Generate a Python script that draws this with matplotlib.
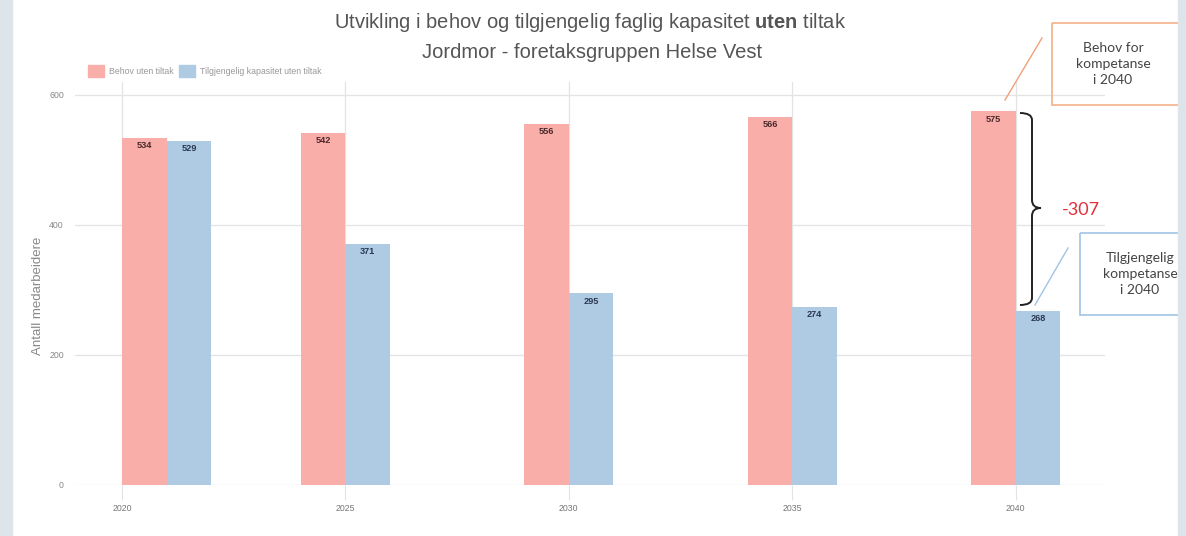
import numpy as np
import matplotlib.pyplot as plt
from matplotlib.patches import Rectangle, Patch
from matplotlib.path import Path
from matplotlib.patches import PathPatch

plt.rcParams['font.family'] = ['Liberation Sans', 'DejaVu Sans']
plt.rcParams['mathtext.fontset'] = 'custom'
plt.rcParams['mathtext.rm'] = 'Liberation Sans'
plt.rcParams['mathtext.bf'] = 'Liberation Sans:bold'

# data
years = [2021, 2025, 2030, 2035, 2040]
behov = [534, 542, 556, 566, 575]
tilgjengelig = [529, 371, 295, 274, 268]
tick_years = [2020, 2025, 2030, 2035, 2040]
y_ticks = [0, 200, 400, 600]

red = '#f9aeaa'
blue = '#aecbe3'

W, H = 1186, 536
fig = plt.figure(figsize=(W / 100, H / 100), dpi=100)

def fx(px):
    return px / W

def fy(py):
    return 1 - py / H

# main axes: x 75..1105, y 82..485 (pixels from top)
ax = fig.add_axes([fx(75), fy(485), fx(1105) - fx(75), fy(82) - fy(485)])
ax.set_xlim(2018.95, 2042.0)
ax.set_ylim(0, 620)

x = np.array(years)
ax.bar(x - 0.5, behov, width=1.0, color=red, zorder=2, label='Behov uten tiltak')
ax.bar(x + 0.5, tilgjengelig, width=1.0, color=blue, zorder=2,
       label='Tilgjengelig kapasitet uten tiltak')

for xi, v in zip(x, behov):
    ax.text(xi - 0.5, v - 5, str(v), ha='center', va='top', fontsize=6.6,
            fontweight='bold', color='#4a2a2a', zorder=3)
for xi, v in zip(x, tilgjengelig):
    ax.text(xi + 0.5, v - 5, str(v), ha='center', va='top', fontsize=6.6,
            fontweight='bold', color='#2a3850', zorder=3)

ax.set_xticks(tick_years)
ax.set_xticklabels([str(t) for t in tick_years])
ax.set_yticks(y_ticks)
ax.grid(True, color='#e3e3e3', linewidth=0.9, zorder=0)
ax.set_axisbelow(True)
for s in ax.spines.values():
    s.set_visible(False)
ax.tick_params(axis='x', length=11, color='#e3e3e3', labelsize=6.3, labelcolor='#777', pad=3)
ax.tick_params(axis='y', length=0, labelsize=6.3, labelcolor='#888', pad=8)
ax.set_ylabel('Antall medarbeidere', fontsize=9.5, color='#888', labelpad=2)
ax.yaxis.set_label_coords(-0.03, 0.47)

leg = fig.legend(handles=[Patch(color=red, label='Behov uten tiltak'),
                          Patch(color=blue, label='Tilgjengelig kapasitet uten tiltak')],
                 loc='center left', bbox_to_anchor=(fx(84), fy(71)), ncol=2, frameon=False,
                 fontsize=6.3, handlelength=1.9, handleheight=1.9, columnspacing=0.6,
                 handletextpad=0.5, borderaxespad=0)
for t in leg.get_texts():
    t.set_color('#999')

# titles
fig.text(fx(590), fy(22), r'Utvikling i behov og tilgjengelig faglig kapasitet $\bf{uten}$ tiltak',
         ha='center', va='center', fontsize=14.5, color='#555')
fig.text(fx(592), fy(52), 'Jordmor - foretaksgruppen Helse Vest',
         ha='center', va='center', fontsize=14.5, color='#555')

# overlay for annotations (pixel coords)
ov = fig.add_axes([0, 0, 1, 1], zorder=5)
ov.set_xlim(0, W)
ov.set_ylim(H, 0)
ov.axis('off')
ov.patch.set_alpha(0)

ov.add_patch(Rectangle((1052, 23), 140, 82, fill=False, edgecolor='#f5b08a', linewidth=1.2))
ov.text(1113, 64, 'Behov for\nkompetanse\ni 2040', ha='center', va='center',
        fontsize=10, color='#444', family=['Lato', 'DejaVu Sans'], linespacing=1.35)
ov.plot([1005, 1042], [100, 38], color='#f0a07a', linewidth=1)

ov.add_patch(Rectangle((1080, 233), 120, 82, fill=False, edgecolor='#9fc4e4', linewidth=1.2))
ov.text(1140, 274, 'Tilgjengelig\nkompetanse\ni 2040', ha='center', va='center',
        fontsize=10, color='#444', family=['Lato', 'DejaVu Sans'], linespacing=1.35)
ov.plot([1035, 1068], [305, 248], color='#9fc4e4', linewidth=1)

# curly brace
verts = [(1020, 113), (1032, 113), (1032, 120),
         (1032, 200), (1032, 208), (1041, 208),
         (1032, 208), (1032, 216),
         (1032, 298), (1032, 305), (1020, 305)]
codes = [Path.MOVETO, Path.CURVE3, Path.CURVE3,
         Path.LINETO, Path.CURVE3, Path.CURVE3,
         Path.CURVE3, Path.CURVE3,
         Path.LINETO, Path.CURVE3, Path.CURVE3]
ov.add_patch(PathPatch(Path(verts, codes), fill=False, edgecolor='#222', linewidth=1.4))
ov.text(1062, 210, '-307', ha='left', va='center', fontsize=13, color='#e0303a',
        family=['Lato', 'DejaVu Sans'])

# grey borders of the screenshot
ov.add_patch(Rectangle((0, 0), 12, H, color='#dde4ea', zorder=10))
ov.add_patch(Rectangle((1178, 0), W - 1178, H, color='#dde4ea', zorder=10))

fig.savefig('out.png', dpi=100)
